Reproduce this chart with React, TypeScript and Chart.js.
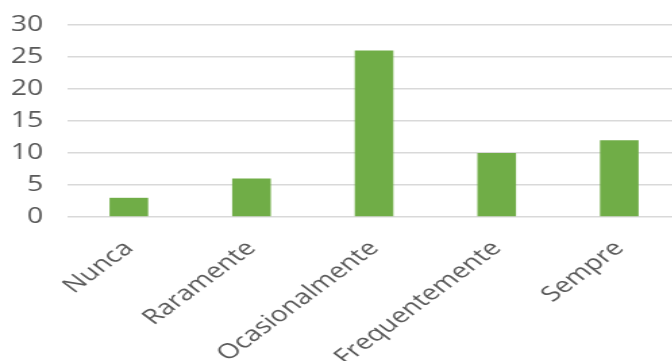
import React, { useEffect, useRef } from "react";
import { Chart, registerables } from "chart.js";

Chart.register(...registerables);

const categories: string[] = ["Nunca", "Raramente", "Ocasionalmente", "Frequentemente", "Sempre"];
const values: number[] = [3, 6, 26, 10, 12];
const yTicks: number[] = [0, 5, 10, 15, 20, 25, 30];

const BAR_COLOR = "#70AD47";
const TEXT_COLOR = "#595959";
const GRID_COLOR = "#d9d9d9";
const FONT = { family: "'Open Sans', sans-serif", size: 21 };

// internal canvas size, then stretched horizontally by CSS to mimic the reference
const INNER_W = 508;
const INNER_H = 361;
const STRETCH = 1.35;

export default function App() {
  const canvasRef = useRef<HTMLCanvasElement | null>(null);

  useEffect(() => {
    const canvas = canvasRef.current;
    if (!canvas) return;
    const chart = new Chart(canvas, {
      type: "bar",
      data: {
        labels: categories,
        datasets: [
          {
            data: values,
            backgroundColor: BAR_COLOR,
            borderWidth: 0,
            barPercentage: 0.315,
            categoryPercentage: 1,
          },
        ],
      },
      options: {
        responsive: false,
        animation: false,
        devicePixelRatio: 1,
        layout: { padding: { left: 4, right: 4, top: 25, bottom: 0 } },
        plugins: { legend: { display: false }, tooltip: { enabled: false } },
        scales: {
          x: {
            grid: { display: false, drawTicks: false },
            border: { display: false },
            ticks: {
              color: TEXT_COLOR,
              font: FONT,
              maxRotation: 45,
              minRotation: 45,
              padding: 19,
              autoSkip: false,
            },
            afterFit: (axis: any) => {
              axis.paddingLeft = 0;
              axis.paddingRight = 0;
              axis.height = 144;
            },
          },
          y: {
            min: yTicks[0],
            max: yTicks[yTicks.length - 1],
            afterBuildTicks: (axis: any) => {
              axis.ticks = yTicks.map((v) => ({ value: v }));
            },
            afterFit: (axis: any) => {
              axis.width = 46;
              axis.paddingTop = 0;
              axis.paddingBottom = 0;
            },
            grid: { color: GRID_COLOR, lineWidth: 1.5, drawTicks: false },
            border: { display: false },
            ticks: {
              color: TEXT_COLOR,
              font: FONT,
              padding: 18,
              autoSkip: false,
            },
          },
        },
      },
    } as any);
    return () => chart.destroy();
  }, []);

  return (
    <div
      style={{
        position: "absolute",
        left: 0,
        top: 0,
        width: "672px",
        height: "361px",
        overflow: "hidden",
        background: "#ffffff",
      }}
    >
      <canvas
        ref={canvasRef}
        width={INNER_W}
        height={INNER_H}
        style={{ width: `${Math.round(INNER_W * STRETCH)}px`, height: `${INNER_H}px` }}
      />
    </div>
  );
}
